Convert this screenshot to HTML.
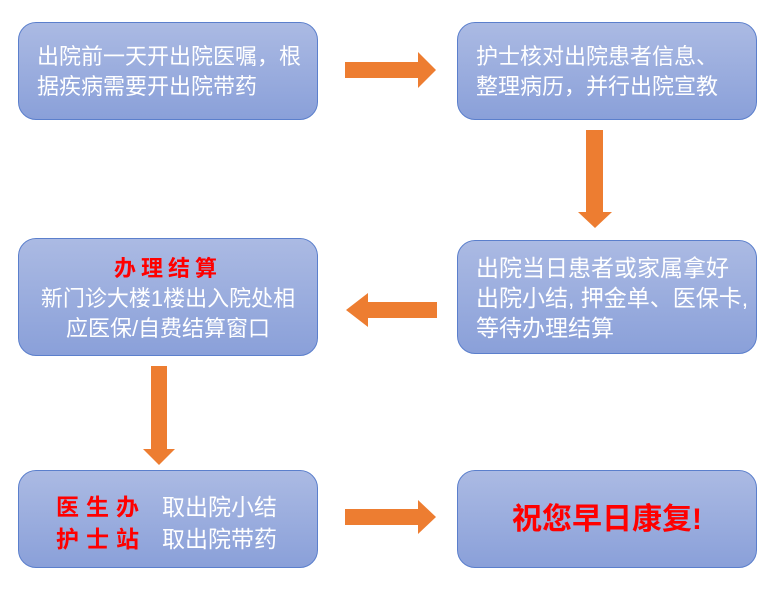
<!DOCTYPE html>
<html><head><meta charset="utf-8"><style>
body{margin:0;width:779px;height:612px;background:#fff;position:relative;overflow:hidden;font-family:"Liberation Sans","Noto Sans CJK SC",sans-serif;}
.b{position:absolute;box-sizing:border-box;border:1.5px solid #5b7fcc;border-radius:18px;background:linear-gradient(#abbae3,#8aa0d9);color:#fff;font-size:22px;line-height:30px;white-space:nowrap;}
.r{color:#f00;font-weight:bold;}
svg{position:absolute;left:0;top:0}
</style></head><body>
<svg width="779" height="612">
<g fill="#ed7d31">
<polygon points="345,62 418,62 418,52 436,70 418,88 418,78 345,78"/>
<polygon points="586,130 603,130 603,212 612,212 595,228 578,212 586,212"/>
<polygon points="437,302 368,302 368,293 346,310 368,327 368,318 437,318"/>
<polygon points="151,366 167,366 167,449 175,449 159,465 143,449 151,449"/>
<polygon points="345,509 418,509 418,500 436,517 418,534 418,525 345,525"/>
</g></svg>
<div class="b" style="left:18px;top:22px;width:300px;height:98px;padding:19px 0 0 18px;">出院前一天开出院医嘱，根<br>据疾病需要开出院带药</div>
<div class="b" style="left:457px;top:22px;width:300px;height:98px;padding:19px 0 0 18px;">护士核对出院患者信息、<br>整理病历，并行出院宣教</div>
<div class="b" style="left:457px;top:240px;width:300px;height:114px;padding:12px 0 0 18px;font-size:23px;">出院当日患者或家属拿好<br>出院小结, 押金单、医保卡,<br>等待办理结算</div>
<div class="b" style="left:18px;top:238px;width:300px;height:118px;padding:15px 0 0 0;text-align:center;"><span class="r" style="letter-spacing:5px">办理结算</span><br>新门诊大楼1楼出入院处相<br>应医保/自费结算窗口</div>
<div class="b" style="left:18px;top:470px;width:300px;height:98px;padding:20px 0 0 37px;font-size:23px;line-height:32px;"><span class="r" style="letter-spacing:7px">医生办</span><span style="display:inline-block;width:16px"></span>取出院小结<br><span class="r" style="letter-spacing:7px">护士站</span><span style="display:inline-block;width:16px"></span>取出院带药</div>
<div class="b" style="left:457px;top:470px;width:300px;height:98px;padding:31px 0 0 0;text-align:center;font-size:30px;line-height:36px;"><span class="r">祝您早日康复!</span></div>
</body></html>
